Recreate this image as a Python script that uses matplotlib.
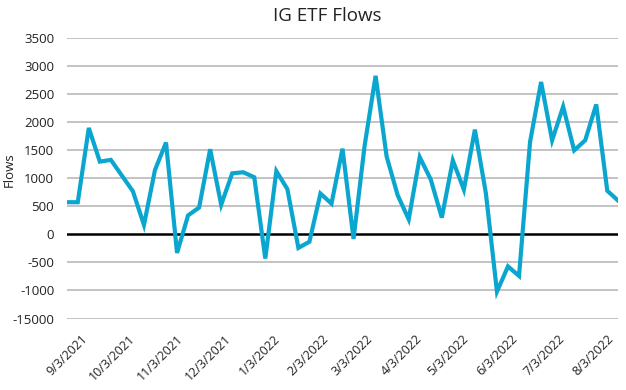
import matplotlib
matplotlib.use('Agg')
import matplotlib.pyplot as plt
import numpy as np
import pandas as pd

plt.rcParams['font.family'] = ['Open Sans', 'DejaVu Sans']

# weekly flows, one point per week
dates = pd.date_range('2021-08-25', periods=51, freq='7D')
flows = [575, 575, 1900, 1300, 1330, 1050, 770, 170, 1150, 1640,
         -330, 340, 480, 1520, 530, 1090, 1110, 1020, -430, 1130,
         810, -240, -130, 730, 550, 1530, -80, 1580, 2830, 1390,
         700, 270, 1380, 980, 300, 1320, 800, 1870, 730, -1020,
         -570, -740, 1650, 2720, 1680, 2280, 1500, 1680, 2320, 780,
         600]

# axis labels
y_ticks = [3500, 3000, 2500, 2000, 1500, 1000, 500, 0, -500, -1000, -1500]
y_labels = ['3500', '3000', '2500', '2000', '1500', '1000', '500', '0',
            '-500', '-1000', '-15000']
x_ticks = pd.date_range('2021-09-01', periods=12, freq='MS') + pd.Timedelta(days=2)
x_labels = [f'{d.month}/{d.day}/{d.year}' for d in x_ticks]

fig = plt.figure(figsize=(6.26, 3.9), dpi=100)
ax = fig.add_axes([0.1066, 0.1833, 0.8811, 0.7185])

for v in y_ticks:
    if v == 0:
        continue
    ax.axhline(v, color='#b3b3b3', lw=1.1, zorder=1)
ax.axhline(0, color='black', lw=1.8, zorder=2)

ax.plot(dates, flows, color='#0aa6cf', lw=3.0, solid_joinstyle='miter', zorder=3)

ax.set_yticks(y_ticks)
ax.set_yticklabels(y_labels, fontsize=9.5, color='#222222')
ax.set_xticks(x_ticks)
ax.set_xticklabels(x_labels, rotation=45, ha='right', rotation_mode='anchor',
                   fontsize=9, color='#222222')
ax.set_xlim(dates[0], dates[-1])
ax.set_ylim(-1500, 3500)
ax.tick_params(axis='both', length=0)
ax.tick_params(axis='y', pad=9)
ax.tick_params(axis='x', pad=10)

for s in ax.spines.values():
    s.set_visible(False)

ax.set_ylabel('Flows', fontsize=9.5, color='#222222')
ax.yaxis.set_label_coords(-0.092, 0.53)
fig.text(0.523, 0.958, 'IG ETF Flows', ha='center', va='center', fontsize=13.5, color='#222222')

fig.savefig('out.png', dpi=100)
